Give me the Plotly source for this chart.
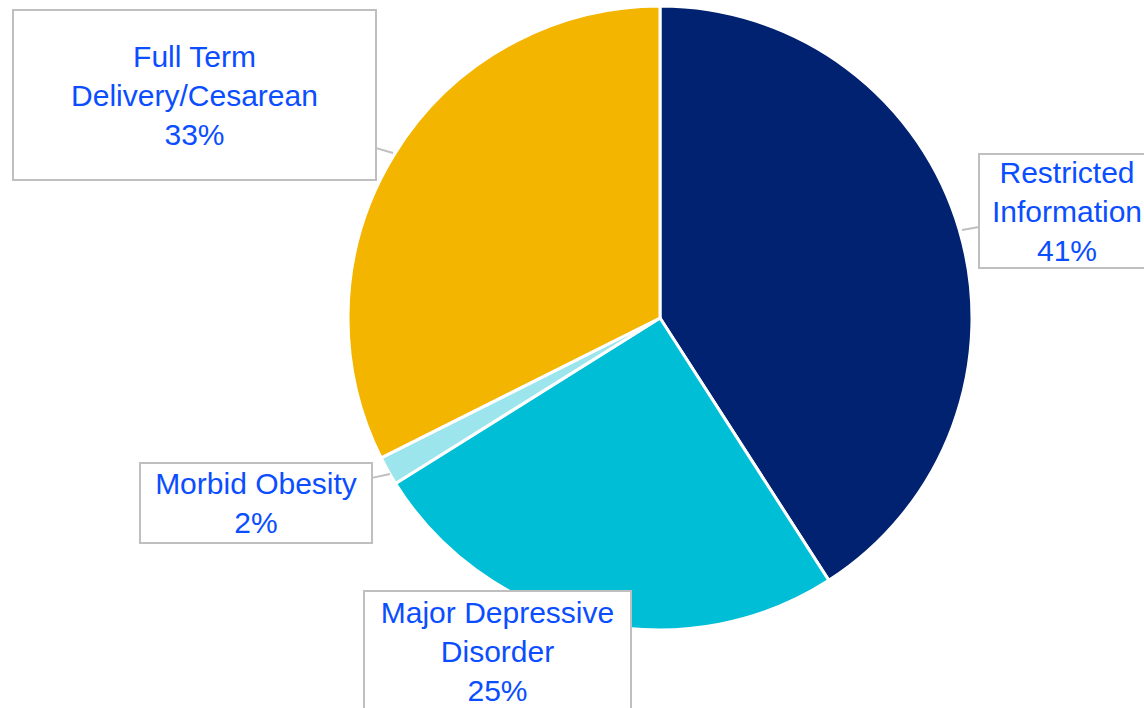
import plotly.graph_objects as go

# Data
categories = ["Restricted Information", "Major Depressive Disorder", "Morbid Obesity", "Full Term Delivery/Cesarean"]
values = [40.9, 25.2, 1.5, 32.4]
pct_labels = ["41%", "25%", "2%", "33%"]
box_text = ["Restricted<br>Information<br>", "Major Depressive<br>Disorder<br>", "Morbid Obesity<br>", "Full Term<br>Delivery/Cesarean<br>"]
colors = ["#002270", "#00BED6", "#9DE5EC", "#F3B500"]

W, H = 1144, 708
fig = go.Figure()
fig.add_trace(go.Pie(
    labels=categories, values=values, sort=False, direction="clockwise", rotation=0,
    marker=dict(colors=colors, line=dict(color="white", width=3)),
    textinfo="none", hoverinfo="label+percent", showlegend=False,
    domain=dict(x=[348 / W, 972 / W], y=[(H - 630) / H, (H - 6) / H]),
))

font = dict(family="Liberation Sans, Arial", size=30, color="#0A4EFF")
# annotation layout: (tip_x, tip_y, box_center_x, box_center_y, width, height, arrow)
layout_boxes = [
    (962, 230, 1067, 211, 174, 112, True),
    (497, 651, 497, 651, 265, 118, False),
    (390, 474, 256, 503, 230, 78, True),
    (393, 153, 194, 95, 361, 168, True),
]
for i, (tx, ty, cx, cy, w, h, arrow) in enumerate(layout_boxes):
    common = dict(
        text=box_text[i] + pct_labels[i], xref="paper", yref="paper",
        font=font, align="center", width=w, height=h, valign="middle",
        bgcolor="white", bordercolor="#BFBFBF", borderwidth=2, borderpad=0,
    )
    if arrow:
        fig.add_annotation(x=tx / W, y=1 - ty / H, ax=cx - tx, ay=cy - ty,
                           showarrow=True, arrowhead=0, arrowwidth=2,
                           arrowcolor="#BFBFBF", **common)
    else:
        fig.add_annotation(x=cx / W, y=1 - cy / H, xanchor="center", yanchor="middle",
                           showarrow=False, **common)

fig.update_layout(width=W, height=H, margin=dict(l=0, r=0, t=0, b=0),
                  paper_bgcolor="white", plot_bgcolor="white")
fig.write_html("out.html", config={"displayModeBar": False},
               post_script="document.body.style.margin='0';document.body.style.overflow='hidden';")
